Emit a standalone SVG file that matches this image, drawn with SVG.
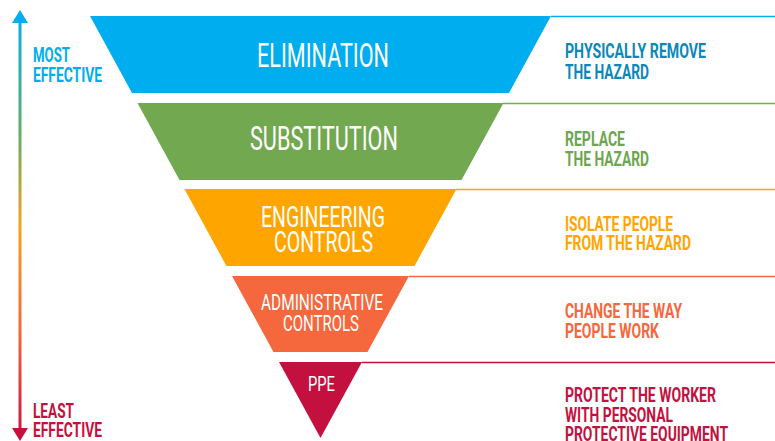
<svg xmlns="http://www.w3.org/2000/svg" width="775" height="441" viewBox="0 0 775 441">
<defs>
<linearGradient id="arrowGrad" x1="0" y1="10" x2="0" y2="441" gradientUnits="userSpaceOnUse">
<stop offset="0" stop-color="#00AEEF"/>
<stop offset="0.28" stop-color="#5fae6a"/>
<stop offset="0.5" stop-color="#f6a21e"/>
<stop offset="0.75" stop-color="#f2683c"/>
<stop offset="1" stop-color="#c8103f"/>
</linearGradient>
<style>
.w{font-family:"Roboto","Liberation Sans",sans-serif;font-weight:400;fill:#fff;text-anchor:start}
.d{font-family:"Roboto","Liberation Sans",sans-serif;font-weight:700;font-size:20.5px}
.blue{fill:#0b88b9}.green{fill:#6ca64f}.orange{fill:#ffa500}.coral{fill:#f5673d}.red{fill:#c4103f}
.lblue{fill:#00AEEF}
</style>
</defs>
<rect width="775" height="441" fill="#fff"/>
<g id="scale-arrow">
<rect x="18.5" y="20" width="3" height="410" fill="url(#arrowGrad)"/>
<polygon points="20,10 28,23 12,23" fill="#00AEEF"/>
<polygon points="20,441 28,428 12,428" fill="#c8103f"/>
<text class="d lblue" font-size="19.5"><tspan x="33" y="62" textLength="37" lengthAdjust="spacingAndGlyphs">MOST</tspan><tspan x="33" y="82" textLength="69" lengthAdjust="spacingAndGlyphs">EFFECTIVE</tspan></text>
<text class="d red" font-size="19.5"><tspan x="33" y="418" textLength="41" lengthAdjust="spacingAndGlyphs">LEAST</tspan><tspan x="33" y="437" textLength="69" lengthAdjust="spacingAndGlyphs">EFFECTIVE</tspan></text>
</g>
<g id="connectors">
<line x1="551" y1="16.5" x2="775" y2="16.5" stroke="#00AEEF" stroke-width="1.5"/>
<line x1="503" y1="103.5" x2="775" y2="103.5" stroke="#6fb23f" stroke-width="1.5"/>
<line x1="456" y1="189.5" x2="775" y2="189.5" stroke="#ffa500" stroke-width="1.5"/>
<line x1="409" y1="276.5" x2="775" y2="276.5" stroke="#f5673d" stroke-width="1.5"/>
<line x1="362" y1="362.5" x2="775" y2="362.5" stroke="#c4103f" stroke-width="1.5"/>
</g>
<g id="elimination">
<polygon points="90,16 551,16 509,93 132,93" fill="#00AEEF"/>
<text class="w" font-size="34"><tspan x="257" y="67" textLength="132" lengthAdjust="spacingAndGlyphs">ELIMINATION</tspan></text>
<text class="d blue"><tspan x="565" y="58" textLength="141" lengthAdjust="spacingAndGlyphs">PHYSICALLY REMOVE</tspan><tspan x="565" y="79" textLength="84" lengthAdjust="spacingAndGlyphs">THE HAZARD</tspan></text>
</g>
<g id="substitution">
<polygon points="137.5,103 503.5,103 461.5,180 179.5,180" fill="#72a84f"/>
<text class="w" font-size="34"><tspan x="250" y="150" textLength="148" lengthAdjust="spacingAndGlyphs">SUBSTITUTION</tspan></text>
<text class="d green"><tspan x="565" y="146" textLength="60" lengthAdjust="spacingAndGlyphs">REPLACE</tspan><tspan x="565" y="166" textLength="84" lengthAdjust="spacingAndGlyphs">THE HAZARD</tspan></text>
</g>
<g id="engineering">
<polygon points="184.4,189 456.5,189 414.5,266 226.5,266" fill="#ffa500"/>
<text class="w" font-size="29.5"><tspan x="261" y="227" textLength="124" lengthAdjust="spacingAndGlyphs">ENGINEERING</tspan><tspan x="274" y="252" textLength="99" lengthAdjust="spacingAndGlyphs">CONTROLS</tspan></text>
<text class="d orange"><tspan x="565" y="231" textLength="108" lengthAdjust="spacingAndGlyphs">ISOLATE PEOPLE</tspan><tspan x="565" y="250" textLength="126" lengthAdjust="spacingAndGlyphs">FROM THE HAZARD</tspan></text>
</g>
<g id="administrative">
<polygon points="232,276 409,276 367.5,352 273.5,352" fill="#f5673d"/>
<text class="w" font-size="22.5"><tspan x="261" y="310" textLength="122" lengthAdjust="spacingAndGlyphs">ADMINISTRATIVE</tspan><tspan x="283" y="331" textLength="76" lengthAdjust="spacingAndGlyphs">CONTROLS</tspan></text>
<text class="d coral"><tspan x="565" y="318" textLength="117" lengthAdjust="spacingAndGlyphs">CHANGE THE WAY</tspan><tspan x="565" y="338" textLength="94" lengthAdjust="spacingAndGlyphs">PEOPLE WORK</tspan></text>
</g>
<g id="ppe">
<polygon points="279,362 362,362 320.5,438" fill="#c4103f"/>
<text class="w" font-size="21"><tspan x="308" y="391" textLength="27" lengthAdjust="spacingAndGlyphs">PPE</tspan></text>
<text class="d red"><tspan x="565" y="402" textLength="151" lengthAdjust="spacingAndGlyphs">PROTECT THE WORKER</tspan><tspan x="565" y="422" textLength="108" lengthAdjust="spacingAndGlyphs">WITH PERSONAL</tspan><tspan x="565" y="441" textLength="163" lengthAdjust="spacingAndGlyphs">PROTECTIVE EQUIPMENT</tspan></text>
</g>
</svg>
